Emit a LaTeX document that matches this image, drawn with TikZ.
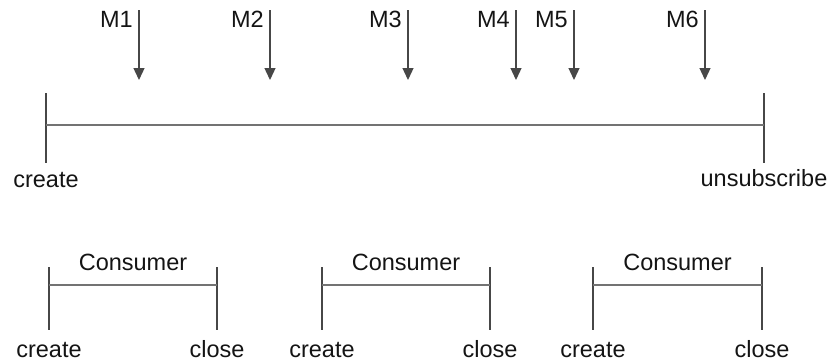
\documentclass[tikz,border=0pt]{standalone}
\usepackage{fontspec}
\setmainfont{Liberation Sans}
\usetikzlibrary{arrows.meta}
\begin{document}
\begin{tikzpicture}[x=1pt,y=-1pt,
  lbl/.style={inner sep=0pt,text=black!92,font=\fontsize{23.5}{27}\selectfont},
  bar/.style={draw=black!72,line width=2.5pt},
  span/.style={draw=black!55,line width=2pt},
  msg/.style={draw=black!72,line width=1.3pt,-{Triangle[width=11pt,length=12pt]}}]
\useasboundingbox (0,0) rectangle (828,362);
% main timeline
\coordinate (t0) at (46,93); \coordinate (b0) at (46,163);
\coordinate (t1) at (764,93); \coordinate (b1) at (764,163);
\coordinate (m0) at (46,125); \coordinate (m1) at (764,125);
\draw[bar] (t0) -- (b0);
\draw[bar] (t1) -- (b1);
\draw[span] (m0) -- (m1);
\node[lbl,anchor=base] (create0) at (46,187) {create};
\node[lbl,anchor=base] (unsub) at (764,186) {unsubscribe};
% messages
\foreach \n/\x in {1/139,2/270,3/408,4/516,5/574,6/705}{
  \coordinate (a\n) at (\x,10);
  \coordinate (e\n) at (\x,80);
  \draw[msg] (a\n) -- (e\n);
  \node[lbl,anchor=base east] (M\n) at (\x-6,27) {M\n};
}
% consumers
\foreach \i/\l/\r in {1/49/217,2/322/490,3/593/762}{
  \coordinate (cl\i t) at (\l,267); \coordinate (cl\i b) at (\l,330);
  \coordinate (cr\i t) at (\r,267); \coordinate (cr\i b) at (\r,330);
  \coordinate (cl\i m) at (\l,285); \coordinate (cr\i m) at (\r,285);
  \draw[bar] (cl\i t) -- (cl\i b);
  \draw[bar] (cr\i t) -- (cr\i b);
  \draw[span] (cl\i m) -- (cr\i m);
  \node[lbl,anchor=base] (cons\i) at ({(\l+\r)/2},270) {Consumer};
  \node[lbl,anchor=base] (cc\i) at (\l,357) {create};
  \node[lbl,anchor=base] (cx\i) at (\r,357) {close};
}
\end{tikzpicture}
\end{document}
